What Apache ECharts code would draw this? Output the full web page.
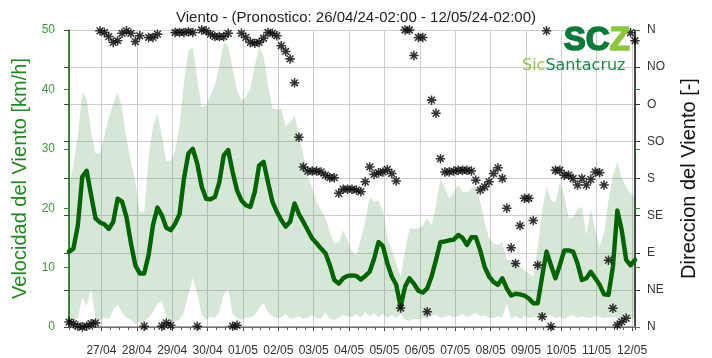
<!DOCTYPE html>
<html>
<head>
<meta charset="utf-8">
<script src="https://cdn.jsdelivr.net/npm/echarts@6/dist/echarts.min.js"></script>
<style>
  html, body { margin: 0; padding: 0; background: #ffffff; }
  #chart { width: 712px; height: 358px; }
</style>
</head>
<body>
<div id="chart"></div>
<script>
// Forecast run: 26/04/24 02:00 to 12/05/24 02:00, one value every 3 hours
const RUN_START = new Date(2024, 3, 26, 2, 0, 0).getTime();
const RUN_END = new Date(2024, 4, 12, 2, 0, 0).getTime();
const STEP_MS = 3 * 3600 * 1000;
const DAY_MS = 24 * 3600 * 1000;

// Wind speed, deterministic run [km/h]
const windSpeed = [
  12.7, 13.2, 17.1, 25.3, 26.3, 22.2, 18.3, 17.6, 17.3, 16.5, 17.7, 21.6, 21.1, 18.5, 14.1, 10.4,
  9.0, 9.0, 12.1, 17.2, 20.1, 18.8, 16.7, 16.3, 17.4, 19.0, 25.0, 29.2, 30.0, 27.5, 23.7, 21.6,
  21.5, 21.9, 24.4, 28.9, 29.8, 26.1, 23.0, 21.3, 20.5, 20.2, 22.7, 27.2, 27.8, 24.4, 21.1, 19.4,
  18.0, 16.9, 17.7, 20.8, 19.0, 17.7, 16.3, 14.9, 14.1, 13.2, 12.4, 10.4, 7.9, 7.3, 8.2, 8.6,
  8.7, 8.6, 8.0, 8.6, 9.3, 11.5, 14.3, 13.6, 10.7, 8.5, 7.1, 3.4, 6.8, 8.2, 7.3, 6.1,
  5.8, 6.5, 8.5, 11.3, 14.3, 14.4, 14.6, 14.7, 15.5, 15.0, 13.8, 15.1, 15.1, 12.9, 10.1, 8.5,
  7.6, 7.1, 8.2, 6.5, 5.3, 5.6, 5.5, 5.3, 4.8, 4.0, 4.0, 8.5, 12.7, 10.4, 8.2, 10.4,
  12.9, 12.9, 12.7, 10.7, 7.9, 8.2, 9.3, 8.2, 7.1, 5.5, 5.4, 10.1, 19.6, 16.3, 11.3, 10.4,
  11.3
];

// Ensemble spread: upper bound [km/h]
const speedMax = [
  23.9, 27.2, 32.3, 39.5, 38.4, 32.8, 29.2, 29.2, 32.3, 35.2, 37.6, 39.5, 36.8, 31.7, 27.8, 24.4,
  19.4, 19.4, 28.4, 33.9, 35.9, 32.3, 27.8, 28.0, 29.7, 33.9, 41.2, 46.6, 47.1, 41.8, 37.0, 37.3,
  39.0, 40.7, 44.0, 47.9, 47.4, 43.5, 39.8, 38.2, 38.7, 40.1, 44.0, 47.1, 45.7, 40.7, 36.8, 36.6,
  36.8, 33.9, 34.5, 35.6, 32.3, 28.9, 25.5, 23.3, 21.1, 19.7, 18.3, 16.0, 14.1, 14.3, 16.3, 14.6,
  12.7, 12.1, 14.9, 17.7, 21.9, 21.1, 21.3, 19.4, 15.1, 12.9, 10.7, 8.5, 12.9, 16.6, 16.6, 16.6,
  17.1, 18.3, 17.1, 20.5, 25.0, 23.3, 21.6, 22.7, 23.9, 22.7, 22.7, 23.3, 23.6, 21.1, 17.7, 14.9,
  14.1, 13.8, 14.3, 11.3, 11.3, 11.0, 10.1, 9.6, 9.0, 8.4, 13.5, 19.7, 23.6, 21.3, 21.0, 24.4,
  22.2, 18.3, 18.5, 19.9, 20.2, 15.5, 19.9, 16.3, 13.5, 16.0, 21.3, 25.3, 27.8, 25.0, 23.6, 22.5,
  21.9
];

// Ensemble spread: lower bound [km/h]
const speedMin = [
  0.5, 1.0, 1.5, 5.0, 3.5, 6.5, 1.5, 1.2, 1.5, 1.3, 2.8, 3.8, 2.5, 1.5, 1.2, 0.5,
  0.8, 1.0, 1.5, 2.5, 4.0, 4.3, 1.5, 1.0, 1.0, 1.2, 2.5, 5.5, 8.3, 5.5, 2.0, 1.2,
  1.8, 1.5, 2.5, 5.5, 6.5, 2.2, 1.5, 1.2, 1.6, 1.6, 2.0, 3.2, 4.0, 2.5, 1.8, 1.5,
  1.6, 2.2, 1.4, 1.5, 1.8, 1.4, 1.5, 2.0, 1.5, 1.4, 2.4, 1.4, 1.2, 1.6, 2.0, 1.8,
  1.7, 2.2, 1.6, 2.5, 1.8, 2.4, 1.6, 2.2, 1.5, 2.0, 1.5, 2.2, 1.2, 1.0, 1.4, 1.2,
  1.6, 1.3, 1.9, 2.1, 1.5, 1.7, 2.0, 1.5, 1.8, 2.2, 1.6, 2.0, 2.4, 1.8, 1.9, 1.6,
  1.5, 1.8, 1.6, 4.0, 1.4, 1.8, 1.3, 1.9, 1.5, 1.6, 1.9, 1.4, 1.6, 2.0, 1.5, 1.7,
  1.4, 1.8, 2.0, 1.5, 1.8, 1.6, 1.5, 1.9, 1.7, 1.5, 1.6, 1.7, 1.6, 1.5, 1.8, 1.5,
  1.3
];

// Wind direction [degrees, 0 = N, 90 = E]
const windDir = [
  6, 4, 1, 0, 1, 4, 5, 359, 357, 352, 345, 347, 356, 359, 356, 346,
  353, 1, 351, 351, 355, 1, 5, 2, 357, 357, 357, 358, 357, 1, 360, 359,
  355, 352, 352, 352, 356, 1, 2, 356, 351, 345, 344, 345, 350, 357, 356, 353,
  341, 334, 325, 296, 230, 194, 189, 189, 189, 188, 184, 181, 181, 162, 167, 167,
  167, 166, 164, 176, 194, 185, 187, 188, 191, 186, 177, 23, 360, 360, 329, 351,
  351, 18.5, 275, 259, 204, 188, 188, 189, 190, 190, 190, 189, 178, 166, 170, 176,
  186, 193, 180, 144, 96, 77, 123, 156, 156, 129, 75, 12.5, 359, 0.5, 190, 190,
  184, 184, 180, 172, 180, 172, 179, 188, 187, 172, 81, 22.6, 2.4, 6.4, 10.5, 356.6,
  347
];

// Compass labels for the direction axis, every 45 degrees from 0
const compassLabels = ['N', 'NE', 'E', 'SE', 'S', 'SO', 'O', 'NO', 'N'];

const times = windSpeed.map((_, i) => RUN_START + i * STEP_MS);
const pairs = (arr) => arr.map((v, i) => [times[i], v]);

// Asterisk marker: four crossing bars with a solid centre
const ASTERISK = 'path://M0 8.4L20 8.4L20 11.6L0 11.6Z M8.4 0L11.6 0L11.6 20L8.4 20Z ' +
  'M1.8 4.1L4.1 1.8L18.2 15.9L15.9 18.2Z M15.9 1.8L18.2 4.1L4.1 18.2L1.8 15.9Z M6 6L14 6L14 14L6 14Z';

const pad2 = (n) => (n < 10 ? '0' : '') + n;

const chart = echarts.init(document.getElementById('chart'), null, { renderer: 'canvas' });

const GREEN_LINE = '#006400';
const GREEN_TEXT = '#3f9a3f';
const GRID_GREY = '#cecece';
const FONT = 'Liberation Sans, Arial, sans-serif';

chart.setOption({
  animation: false,
  backgroundColor: '#ffffff',
  textStyle: { fontFamily: FONT },
  title: {
    text: 'Viento - (Pronostico: 26/04/24-02:00 - 12/05/24-02:00)',
    left: 'center',
    top: 5,
    textStyle: { fontFamily: FONT, fontSize: 15, fontWeight: 'normal', color: '#1e1e1e' }
  },
  grid: { left: 69, right: 77, top: 30, bottom: 31, containLabel: false },
  xAxis: [
    {
      type: 'time',
      min: RUN_START,
      max: RUN_END,
      minInterval: DAY_MS,
      maxInterval: DAY_MS,
      axisLine: { lineStyle: { color: '#333333', width: 1.2 } },
      axisTick: { show: true, length: 4, lineStyle: { color: '#333333' } },
      axisLabel: {
        fontFamily: FONT,
        fontSize: 12,
        color: '#333333',
        margin: 18,
        hideOverlap: false,
        formatter: (val) => {
          const d = new Date(val);
          return pad2(d.getDate()) + '/' + pad2(d.getMonth() + 1);
        }
      },
      splitLine: { show: true, lineStyle: { color: GRID_GREY, width: 1 } }
    },
    {
      type: 'time',
      position: 'top',
      min: RUN_START,
      max: RUN_END,
      minInterval: DAY_MS / 2,
      maxInterval: DAY_MS / 2,
      axisLine: { lineStyle: { color: '#8a8a8a', width: 1.5 } },
      axisTick: { show: true, inside: true, length: 3, lineStyle: { color: '#555555' } },
      axisLabel: { show: false },
      splitLine: { show: false }
    }
  ],
  yAxis: [
    {
      type: 'value',
      position: 'left',
      min: 0,
      max: 50,
      interval: 10,
      name: 'Velocidad del Viento [km/h]',
      nameLocation: 'middle',
      nameGap: 35,
      nameTextStyle: { fontFamily: FONT, fontSize: 20, color: '#1f8a1f' },
      axisLine: { show: true, lineStyle: { color: GREEN_LINE, width: 1.5 } },
      axisTick: { show: true, length: 5, lineStyle: { color: '#2f8f2f' } },
      axisLabel: { fontFamily: FONT, fontSize: 12, color: GREEN_TEXT, margin: 14 },
      splitLine: { show: false }
    },
    {
      type: 'value',
      position: 'right',
      min: 0,
      max: 360,
      interval: 45,
      name: 'Direccion del Viento [-]',
      nameLocation: 'middle',
      nameRotate: 90,
      nameGap: 44,
      nameTextStyle: { fontFamily: FONT, fontSize: 20, color: '#111111' },
      axisLine: { show: true, lineStyle: { color: '#111111', width: 1.5 } },
      axisTick: { show: true, length: 5, lineStyle: { color: '#333333' } },
      axisLabel: {
        fontFamily: FONT, fontSize: 12, color: '#333333', margin: 12,
        formatter: (v) => compassLabels[Math.round(v / 45)]
      },
      splitLine: { show: true, lineStyle: { color: GRID_GREY, width: 1 } }
    },
    {
      // compass ticks repeated on the left edge
      type: 'value',
      position: 'left',
      min: 0,
      max: 360,
      interval: 45,
      axisLine: { show: false },
      axisTick: { show: true, length: 5, lineStyle: { color: '#444444' } },
      axisLabel: { show: false },
      splitLine: { show: false }
    },
    {
      // speed ticks repeated on the right edge
      type: 'value',
      position: 'right',
      min: 0,
      max: 50,
      interval: 10,
      axisLine: { show: false },
      axisTick: { show: true, length: 5, lineStyle: { color: '#2f8f2f' } },
      axisLabel: { show: false },
      splitLine: { show: false }
    }
  ],
  series: [
    {
      name: 'min',
      type: 'line',
      xAxisIndex: 0,
      yAxisIndex: 0,
      stack: 'spread',
      symbol: 'none',
      silent: true,
      lineStyle: { width: 0, opacity: 0 },
      data: pairs(speedMin)
    },
    {
      name: 'spread',
      type: 'line',
      xAxisIndex: 0,
      yAxisIndex: 0,
      stack: 'spread',
      symbol: 'none',
      silent: true,
      lineStyle: { width: 0, opacity: 0 },
      areaStyle: { color: 'rgba(45, 125, 45, 0.19)', opacity: 1 },
      data: speedMax.map((v, i) => [times[i], v - speedMin[i]])
    },
    {
      name: 'Velocidad',
      type: 'line',
      xAxisIndex: 0,
      yAxisIndex: 0,
      symbol: 'none',
      lineStyle: { color: GREEN_LINE, width: 4.4, join: 'round', cap: 'round' },
      data: pairs(windSpeed),
      z: 3
    },
    {
      name: 'Direccion',
      type: 'scatter',
      xAxisIndex: 0,
      yAxisIndex: 1,
      symbol: ASTERISK,
      symbolSize: 9.5,
      clip: false,
      itemStyle: { color: '#000000' },
      data: pairs(windDir),
      z: 4
    }
  ],
  graphic: [
    {
      type: 'text',
      left: 563,
      top: 24,
      z: 10,
      style: {
        text: '{d|SC}{l|Z}',
        rich: {
          d: { fontFamily: FONT, fontWeight: 'bold', fontSize: 33, fill: '#0b7a3a', stroke: '#0b7a3a', lineWidth: 1.6 },
          l: { fontFamily: FONT, fontWeight: 'bold', fontSize: 33, fill: '#8cc63f', stroke: '#8cc63f', lineWidth: 1.6 }
        }
      }
    },
    {
      type: 'text',
      left: 522,
      top: 58,
      z: 10,
      style: {
        text: '{l|Sic}{d|Santacruz}',
        rich: {
          l: { fontFamily: 'DejaVu Sans, sans-serif', fontSize: 16, fill: '#8cc63f' },
          d: { fontFamily: 'DejaVu Sans, sans-serif', fontSize: 16, fill: '#1c8a47' }
        }
      }
    }
  ]
});
</script>
</body>
</html>
